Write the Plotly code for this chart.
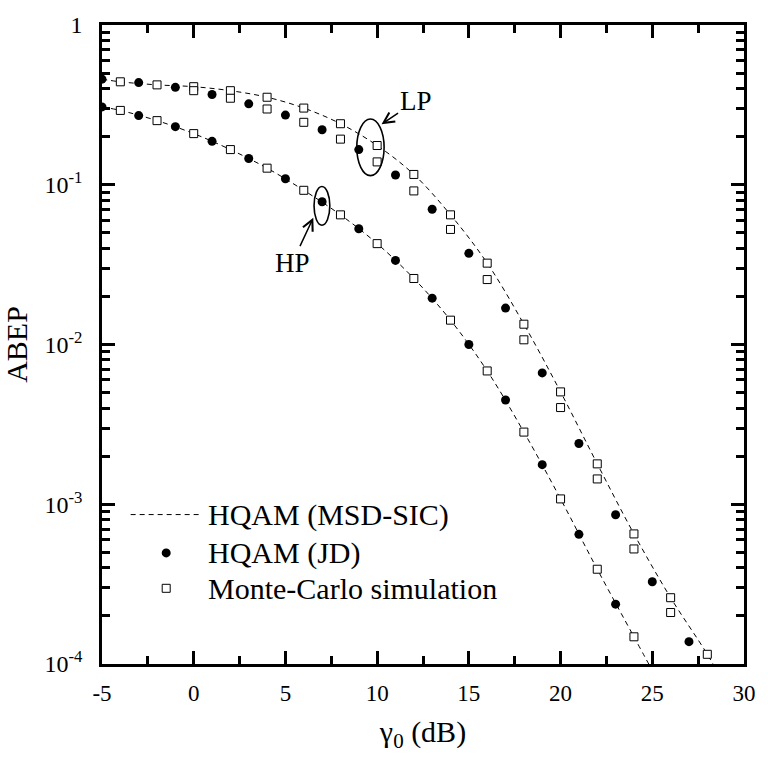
import plotly.graph_objects as go

# ---------------- data ----------------
# Analytic curves, HQAM (MSD-SIC)
x_lp_line = [-5, -4, -2, 0, 2, 4, 6, 8, 10, 12, 14, 16, 18, 20, 22, 24, 26, 28, 29]
lp_line = [0.458, 0.441, 0.422, 0.411, 0.388, 0.353, 0.302, 0.241, 0.176, 0.116,
           0.0648, 0.0323, 0.0134, 0.00505, 0.00179, 6.52e-4, 2.60e-4, 1.15e-4, 7.2e-5]
x_hp_line = [-5, -4, -2, 0, 2, 4, 6, 8, 10, 12, 14, 16, 18, 20, 22, 24, 25]
hp_line = [0.307, 0.292, 0.252, 0.209, 0.166, 0.127, 0.0923, 0.0648, 0.0428, 0.0259,
           0.0142, 0.00683, 0.00283, 0.00108, 3.92e-4, 1.48e-4, 9.1e-5]

# HQAM (JD)
x_lp_jd = [-5, -3, -1, 1, 3, 5, 7, 9, 11, 13, 15, 17, 19, 21, 23, 25, 27]
lp_jd = [0.458, 0.436, 0.407, 0.367, 0.321, 0.273, 0.221, 0.166, 0.115, 0.0703,
         0.0372, 0.0169, 0.00664, 0.0024, 8.6e-4, 3.27e-4, 1.38e-4]
x_hp_jd = [-5, -3, -1, 1, 3, 5, 7, 9, 11, 13, 15, 17, 19, 21, 23]
hp_jd = [0.307, 0.271, 0.231, 0.187, 0.146, 0.109, 0.0783, 0.0530, 0.0336, 0.0195,
         0.0100, 0.00449, 0.00177, 6.48e-4, 2.37e-4]

# Monte-Carlo simulation
x_lp_sim_a = [-4, -2, 0, 2, 4, 6, 8, 10, 12, 14, 16, 18, 20, 22, 24, 26, 28]
lp_sim_a = [0.441, 0.422, 0.411, 0.388, 0.353, 0.302, 0.241, 0.176, 0.116, 0.0648,
            0.0323, 0.0134, 0.00505, 0.00179, 6.52e-4, 2.60e-4, 1.15e-4]
x_lp_sim_b = [0, 2, 4, 6, 8, 10, 12, 14, 16, 18, 20, 22, 24, 26]
lp_sim_b = [0.388, 0.348, 0.298, 0.246, 0.193, 0.139, 0.0915, 0.0525, 0.0255,
            0.0107, 0.00403, 0.00144, 5.25e-4, 2.10e-4]
x_hp_sim = [-4, -2, 0, 2, 4, 6, 8, 10, 12, 14, 16, 18, 20, 22, 24]
hp_sim = [0.292, 0.252, 0.209, 0.166, 0.127, 0.0923, 0.0648, 0.0428, 0.0259, 0.0142,
          0.00683, 0.00283, 0.00108, 3.92e-4, 1.48e-4]

x_tickvals = [-5, 0, 5, 10, 15, 20, 25, 30]
x_ticktext = ["-5", "0", "5", "10", "15", "20", "25", "30"]
y_tickvals = [1e-4, 1e-3, 1e-2, 1e-1, 1]
y_ticktext = ["10<sup>-4</sup>", "10<sup>-3</sup>", "10<sup>-2</sup>", "10<sup>-1</sup>", "1"]

legend_labels = ["HQAM (MSD-SIC)", "HQAM (JD)", "Monte-Carlo simulation"]

FONT = "Liberation Serif, Times New Roman, serif"

# ---------------- figure ----------------
fig = go.Figure()

line_style = dict(color="black", width=1, dash="5px,4px")
for xs, ys in [(x_lp_line, lp_line), (x_hp_line, hp_line)]:
    fig.add_trace(go.Scatter(x=xs, y=ys, mode="lines", line=line_style,
                             line_shape="spline", showlegend=False, hoverinfo="skip"))

sq = dict(symbol="square", size=8, color="white", line=dict(color="black", width=1))
for xs, ys in [(x_lp_sim_a, lp_sim_a), (x_lp_sim_b, lp_sim_b), (x_hp_sim, hp_sim)]:
    fig.add_trace(go.Scatter(x=xs, y=ys, mode="markers", marker=sq, showlegend=False))

dot = dict(symbol="circle", size=9, color="black")
for xs, ys in [(x_lp_jd, lp_jd), (x_hp_jd, hp_jd)]:
    fig.add_trace(go.Scatter(x=xs, y=ys, mode="markers", marker=dot, showlegend=False))

# ---------------- layout ----------------
L, R, T, B = 102, 16, 14, 100
W, H = 768, 764
PW, PH = W - L - R, H - T - B


def px(xp):
    return (xp - L) / PW


def py(yp):
    return (H - B - yp) / PH


axis_common = dict(
    showline=True, linecolor="black", linewidth=2.5, mirror="ticks",
    ticks="inside", ticklen=13, tickwidth=2.5, tickcolor="black",
    showgrid=False, zeroline=False,
)

fig.update_layout(
    width=W, height=H,
    margin=dict(l=L, r=R, t=T, b=B),
    paper_bgcolor="white", plot_bgcolor="white",
    font=dict(family=FONT, color="black"),
    showlegend=False,
    xaxis=dict(
        **axis_common, range=[-5, 30], tickvals=x_tickvals, ticktext=x_ticktext,
        tickfont=dict(family=FONT, size=23, color="black"),
        minor=dict(ticks="inside", ticklen=8, tickwidth=2.5, tickcolor="black",
                   dtick=2.5, tick0=-5, showgrid=False),
        ticklabelstandoff=7,
        title=dict(text="γ<sub>0</sub> (dB)", font=dict(family=FONT, size=30), standoff=16),
    ),
    yaxis=dict(
        **axis_common, type="log", range=[-4, 0], tickvals=y_tickvals, ticktext=y_ticktext,
        tickfont=dict(family=FONT, size=24, color="black"),
        minor=dict(ticks="inside", ticklen=8, tickwidth=2.5, tickcolor="black",
                   dtick="D1", showgrid=False),
        ticklabelstandoff=12,
        title=dict(text="ABEP", font=dict(family=FONT, size=30), standoff=10),
    ),
)

# ellipses marking LP / HP groups
fig.add_shape(type="circle", xref="x", yref="y", x0=8.89, x1=10.38, y0=0.114, y1=0.258,
              line=dict(color="black", width=1.6))
fig.add_shape(type="circle", xref="x", yref="y", x0=6.56, x1=7.42, y0=0.0558, y1=0.0976,
              line=dict(color="black", width=1.6))

# labels with arrows pointing at the ellipses (annotation y in log10 units)
fig.add_annotation(x=10.24, y=-0.6215, xref="x", yref="y", text="LP", showarrow=True,
                   ax=34, ay=-23, arrowhead=5, arrowsize=1.4, arrowwidth=1.5,
                   arrowcolor="black", standoff=0,
                   font=dict(family=FONT, size=27, color="black"))
fig.add_annotation(x=6.52, y=-1.206, xref="x", yref="y", text="HP", showarrow=True,
                   ax=-21, ay=45, arrowhead=5, arrowsize=1.4, arrowwidth=1.5,
                   arrowcolor="black", standoff=0,
                   font=dict(family=FONT, size=27, color="black"))

# manual legend
rows_y = [512, 551, 587]
fig.add_shape(type="line", xref="paper", yref="paper", x0=px(131), x1=px(200),
              y0=py(rows_y[0]), y1=py(rows_y[0]), line=line_style)
fig.add_shape(type="circle", xref="paper", yref="paper", xsizemode="pixel", ysizemode="pixel",
              xanchor=px(167), yanchor=py(rows_y[1]), x0=-4.5, x1=4.5, y0=-4.5, y1=4.5,
              fillcolor="black", line=dict(color="black", width=0))
fig.add_shape(type="rect", xref="paper", yref="paper", xsizemode="pixel", ysizemode="pixel",
              xanchor=px(167), yanchor=py(rows_y[2]), x0=-4, x1=4, y0=-4, y1=4,
              fillcolor="white", line=dict(color="black", width=1))
for label, yy in zip(legend_labels, rows_y):
    fig.add_annotation(x=px(207), y=py(yy), xref="paper", yref="paper", text=label,
                       showarrow=False, xanchor="left", yanchor="middle",
                       font=dict(family=FONT, size=30, color="black"))

fig.write_html("out.html")
